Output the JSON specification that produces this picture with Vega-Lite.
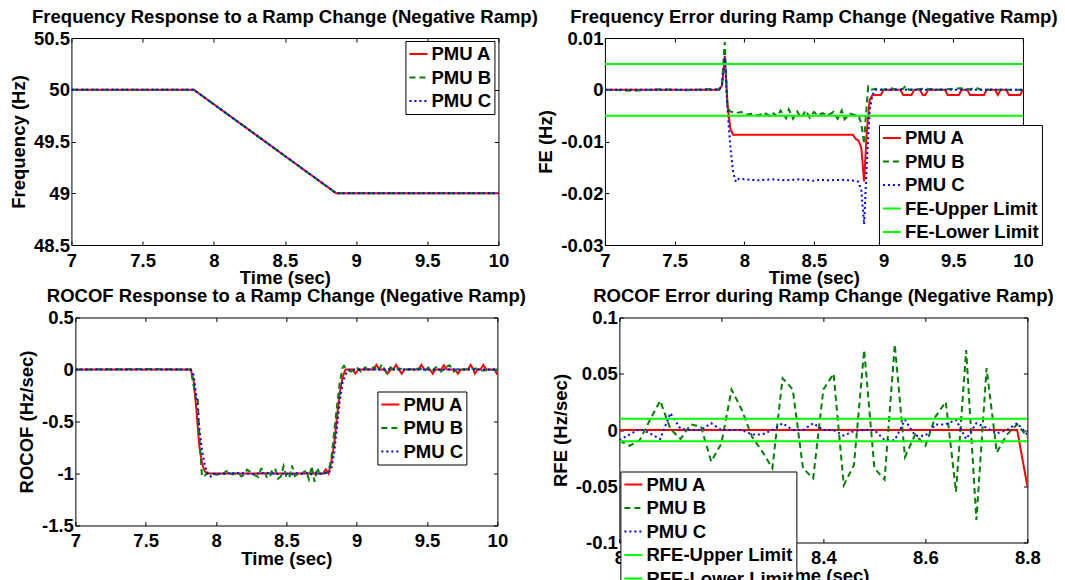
{
  "$schema": "https://vega.github.io/schema/vega-lite/v6.json",
  "background": "white",
  "padding": {"left": 9, "top": 7, "right": 0, "bottom": 0},
  "config": {
    "font": "Liberation Sans",
    "view": {"stroke": null},
    "axis": {
      "labelFont": "Liberation Sans", "labelFontWeight": "bold", "labelFontSize": 18.5, "labelColor": "black",
      "titleFont": "Liberation Sans", "titleFontWeight": "bold", "titleFontSize": 18.5, "titleColor": "black",
      "domainColor": "black", "domainWidth": 1, "tickColor": "black", "tickWidth": 1, "tickSize": -4,
      "grid": false, "labelFlush": false, "labelOverlap": false
    },
    "axisX": {"labelPadding": 10, "titlePadding": -1},
    "axisY": {"labelPadding": 6, "titlePadding": 5},
    "legend": {
      "orient": "none", "title": null, "fillColor": "white", "strokeColor": "black",
      "padding": 3, "rowPadding": 3.5, "labelFont": "Liberation Sans", "labelFontWeight": "bold",
      "labelFontSize": 18.5, "labelColor": "black", "symbolType": "stroke", "symbolSize": 324,
      "symbolStrokeWidth": 2, "labelOffset": 3
    },
    "title": {"font": "Liberation Sans", "fontWeight": "bold", "fontSize": 18.5, "color": "black", "anchor": "middle", "offset": 3, "baseline": "alphabetic"}
  },
  "resolve": {"scale": {"color": "independent", "strokeDash": "independent", "x": "independent", "y": "independent"}, "legend": {"color": "independent", "strokeDash": "independent"}},
  "datasets": {
    "freq": [
      {"s":"PMU A","t":7,"v":50},{"s":"PMU A","t":7.86,"v":50},{"s":"PMU A","t":8.86,"v":49},{"s":"PMU A","t":10,"v":49},
      {"s":"PMU B","t":7,"v":50},{"s":"PMU B","t":7.86,"v":50},{"s":"PMU B","t":8.86,"v":49},{"s":"PMU B","t":10,"v":49},
      {"s":"PMU C","t":7,"v":50},{"s":"PMU C","t":7.86,"v":50},{"s":"PMU C","t":8.86,"v":49},{"s":"PMU C","t":10,"v":49}
    ],
    "fe": [
      {"s":"PMU A","t":7,"v":0},{"s":"PMU A","t":7.82,"v":0},{"s":"PMU A","t":7.84,"v":0.0008},{"s":"PMU A","t":7.86,"v":0.0065},{"s":"PMU A","t":7.88,"v":-0.003},{"s":"PMU A","t":7.9,"v":-0.0075},{"s":"PMU A","t":7.92,"v":-0.0087},{"s":"PMU A","t":8.78,"v":-0.0087},{"s":"PMU A","t":8.8,"v":-0.0095},{"s":"PMU A","t":8.82,"v":-0.0098},{"s":"PMU A","t":8.84,"v":-0.0112},{"s":"PMU A","t":8.86,"v":-0.0177},{"s":"PMU A","t":8.88,"v":-0.008},{"s":"PMU A","t":8.9,"v":-0.002},{"s":"PMU A","t":8.92,"v":-0.001},{"s":"PMU A","t":8.98,"v":-0.001},{"s":"PMU A","t":9,"v":0},{"s":"PMU A","t":9.12,"v":0},{"s":"PMU A","t":9.14,"v":-0.001},{"s":"PMU A","t":9.2,"v":-0.001},{"s":"PMU A","t":9.22,"v":0},{"s":"PMU A","t":9.26,"v":0},{"s":"PMU A","t":9.28,"v":-0.001},{"s":"PMU A","t":9.3,"v":-0.001},{"s":"PMU A","t":9.32,"v":0},{"s":"PMU A","t":9.44,"v":0},{"s":"PMU A","t":9.46,"v":-0.001},{"s":"PMU A","t":9.54,"v":-0.001},{"s":"PMU A","t":9.56,"v":0},{"s":"PMU A","t":9.6,"v":0},{"s":"PMU A","t":9.62,"v":-0.001},{"s":"PMU A","t":9.72,"v":-0.001},{"s":"PMU A","t":9.74,"v":0},{"s":"PMU A","t":9.8,"v":0},{"s":"PMU A","t":9.82,"v":-0.001},{"s":"PMU A","t":9.84,"v":0},{"s":"PMU A","t":9.88,"v":0},{"s":"PMU A","t":9.9,"v":-0.001},{"s":"PMU A","t":9.98,"v":-0.001},{"s":"PMU A","t":10,"v":0},
      {"s":"PMU B","t":7,"v":0},{"s":"PMU B","t":7.2,"v":-0.0002},{"s":"PMU B","t":7.4,"v":0.0001},{"s":"PMU B","t":7.6,"v":-0.0001},{"s":"PMU B","t":7.78,"v":0.0002},{"s":"PMU B","t":7.82,"v":0},{"s":"PMU B","t":7.84,"v":0.001},{"s":"PMU B","t":7.86,"v":0.0092},{"s":"PMU B","t":7.88,"v":-0.0035},{"s":"PMU B","t":7.9,"v":-0.0042},{"s":"PMU B","t":7.94,"v":-0.0045},{"s":"PMU B","t":7.98,"v":-0.0043},{"s":"PMU B","t":8.02,"v":-0.0048},{"s":"PMU B","t":8.06,"v":-0.0046},{"s":"PMU B","t":8.1,"v":-0.005},{"s":"PMU B","t":8.14,"v":-0.0044},{"s":"PMU B","t":8.18,"v":-0.005},{"s":"PMU B","t":8.2,"v":-0.0044},{"s":"PMU B","t":8.24,"v":-0.0052},{"s":"PMU B","t":8.26,"v":-0.004},{"s":"PMU B","t":8.3,"v":-0.0055},{"s":"PMU B","t":8.32,"v":-0.0038},{"s":"PMU B","t":8.35,"v":-0.0056},{"s":"PMU B","t":8.38,"v":-0.0042},{"s":"PMU B","t":8.41,"v":-0.0055},{"s":"PMU B","t":8.44,"v":-0.004},{"s":"PMU B","t":8.47,"v":-0.0054},{"s":"PMU B","t":8.5,"v":-0.0043},{"s":"PMU B","t":8.53,"v":-0.005},{"s":"PMU B","t":8.56,"v":-0.0045},{"s":"PMU B","t":8.6,"v":-0.005},{"s":"PMU B","t":8.64,"v":-0.0043},{"s":"PMU B","t":8.67,"v":-0.0056},{"s":"PMU B","t":8.7,"v":-0.004},{"s":"PMU B","t":8.72,"v":-0.0057},{"s":"PMU B","t":8.76,"v":-0.0046},{"s":"PMU B","t":8.8,"v":-0.005},{"s":"PMU B","t":8.82,"v":-0.005},{"s":"PMU B","t":8.84,"v":-0.0065},{"s":"PMU B","t":8.86,"v":-0.0105},{"s":"PMU B","t":8.87,"v":-0.006},{"s":"PMU B","t":8.89,"v":0.0006},{"s":"PMU B","t":8.91,"v":0},{"s":"PMU B","t":8.95,"v":0.0002},{"s":"PMU B","t":9,"v":0},{"s":"PMU B","t":9.05,"v":0.0003},{"s":"PMU B","t":9.1,"v":0},{"s":"PMU B","t":9.14,"v":0.0002},{"s":"PMU B","t":9.16,"v":0.0008},{"s":"PMU B","t":9.18,"v":0},{"s":"PMU B","t":9.3,"v":0.0002},{"s":"PMU B","t":9.4,"v":0},{"s":"PMU B","t":9.55,"v":0.0003},{"s":"PMU B","t":9.62,"v":0.0001},{"s":"PMU B","t":9.66,"v":0.0004},{"s":"PMU B","t":9.7,"v":0},{"s":"PMU B","t":10,"v":0},
      {"s":"PMU C","t":7,"v":0},{"s":"PMU C","t":7.82,"v":0},{"s":"PMU C","t":7.84,"v":0.001},{"s":"PMU C","t":7.86,"v":0.0062},{"s":"PMU C","t":7.88,"v":-0.004},{"s":"PMU C","t":7.9,"v":-0.011},{"s":"PMU C","t":7.92,"v":-0.016},{"s":"PMU C","t":7.94,"v":-0.0178},{"s":"PMU C","t":7.96,"v":-0.0172},{"s":"PMU C","t":8,"v":-0.0173},{"s":"PMU C","t":8.1,"v":-0.0175},{"s":"PMU C","t":8.2,"v":-0.0173},{"s":"PMU C","t":8.3,"v":-0.0175},{"s":"PMU C","t":8.4,"v":-0.0173},{"s":"PMU C","t":8.5,"v":-0.0176},{"s":"PMU C","t":8.55,"v":-0.0174},{"s":"PMU C","t":8.6,"v":-0.0175},{"s":"PMU C","t":8.7,"v":-0.0174},{"s":"PMU C","t":8.8,"v":-0.0176},{"s":"PMU C","t":8.82,"v":-0.0178},{"s":"PMU C","t":8.84,"v":-0.0195},{"s":"PMU C","t":8.86,"v":-0.026},{"s":"PMU C","t":8.88,"v":-0.014},{"s":"PMU C","t":8.9,"v":-0.004},{"s":"PMU C","t":8.92,"v":-0.001},{"s":"PMU C","t":8.94,"v":0},{"s":"PMU C","t":10,"v":0},
      {"s":"FE-Upper Limit","t":7,"v":0.005},{"s":"FE-Upper Limit","t":10,"v":0.005},
      {"s":"FE-Lower Limit","t":7,"v":-0.005},{"s":"FE-Lower Limit","t":10,"v":-0.005}
    ],
    "rocof": [
      {"s":"PMU A","t":7,"v":0},{"s":"PMU A","t":7.82,"v":0},{"s":"PMU A","t":7.84,"v":-0.1},{"s":"PMU A","t":7.86,"v":-0.38},{"s":"PMU A","t":7.88,"v":-0.72},{"s":"PMU A","t":7.9,"v":-0.9},{"s":"PMU A","t":7.92,"v":-0.98},{"s":"PMU A","t":7.94,"v":-1},{"s":"PMU A","t":8.76,"v":-1},{"s":"PMU A","t":8.78,"v":-0.96},{"s":"PMU A","t":8.8,"v":-1},{"s":"PMU A","t":8.82,"v":-0.88},{"s":"PMU A","t":8.84,"v":-0.72},{"s":"PMU A","t":8.86,"v":-0.45},{"s":"PMU A","t":8.88,"v":-0.22},{"s":"PMU A","t":8.9,"v":-0.07},{"s":"PMU A","t":8.92,"v":0},{"s":"PMU A","t":8.97,"v":0},{"s":"PMU A","t":8.99,"v":-0.04},{"s":"PMU A","t":9.01,"v":0},{"s":"PMU A","t":9.12,"v":0},{"s":"PMU A","t":9.14,"v":0.045},{"s":"PMU A","t":9.16,"v":0},{"s":"PMU A","t":9.2,"v":0},{"s":"PMU A","t":9.22,"v":-0.04},{"s":"PMU A","t":9.24,"v":0},{"s":"PMU A","t":9.26,"v":0},{"s":"PMU A","t":9.28,"v":0.045},{"s":"PMU A","t":9.3,"v":0},{"s":"PMU A","t":9.32,"v":-0.04},{"s":"PMU A","t":9.34,"v":0},{"s":"PMU A","t":9.44,"v":0},{"s":"PMU A","t":9.46,"v":0.045},{"s":"PMU A","t":9.48,"v":0},{"s":"PMU A","t":9.52,"v":0},{"s":"PMU A","t":9.54,"v":-0.04},{"s":"PMU A","t":9.56,"v":0},{"s":"PMU A","t":9.6,"v":0},{"s":"PMU A","t":9.62,"v":0.04},{"s":"PMU A","t":9.64,"v":0},{"s":"PMU A","t":9.7,"v":0},{"s":"PMU A","t":9.72,"v":-0.04},{"s":"PMU A","t":9.74,"v":0},{"s":"PMU A","t":9.79,"v":0},{"s":"PMU A","t":9.81,"v":0.045},{"s":"PMU A","t":9.83,"v":0},{"s":"PMU A","t":9.84,"v":-0.04},{"s":"PMU A","t":9.86,"v":0},{"s":"PMU A","t":9.88,"v":0},{"s":"PMU A","t":9.9,"v":0.045},{"s":"PMU A","t":9.92,"v":0},{"s":"PMU A","t":9.98,"v":0},{"s":"PMU A","t":10,"v":-0.05},
      {"s":"PMU B","t":7,"v":0},{"s":"PMU B","t":7.5,"v":0.005},{"s":"PMU B","t":7.82,"v":0},{"s":"PMU B","t":7.84,"v":-0.15},{"s":"PMU B","t":7.86,"v":-0.3},{"s":"PMU B","t":7.87,"v":-0.28},{"s":"PMU B","t":7.88,"v":-0.6},{"s":"PMU B","t":7.9,"v":-1.03},{"s":"PMU B","t":7.92,"v":-1.02},{"s":"PMU B","t":7.94,"v":-0.99},{"s":"PMU B","t":7.98,"v":-1},{"s":"PMU B","t":8,"v":-1.009},{"s":"PMU B","t":8.02,"v":-1.014},{"s":"PMU B","t":8.04,"v":-1.009},{"s":"PMU B","t":8.06,"v":-0.991},{"s":"PMU B","t":8.08,"v":-0.974},{"s":"PMU B","t":8.1,"v":-0.999},{"s":"PMU B","t":8.12,"v":-1.008},{"s":"PMU B","t":8.14,"v":-0.995},{"s":"PMU B","t":8.16,"v":-0.997},{"s":"PMU B","t":8.18,"v":-1.028},{"s":"PMU B","t":8.2,"v":-1.012},{"s":"PMU B","t":8.22,"v":-0.964},{"s":"PMU B","t":8.24,"v":-0.982},{"s":"PMU B","t":8.26,"v":-1.006},{"s":"PMU B","t":8.28,"v":-1.019},{"s":"PMU B","t":8.3,"v":-1.034},{"s":"PMU B","t":8.32,"v":-0.954},{"s":"PMU B","t":8.34,"v":-0.964},{"s":"PMU B","t":8.36,"v":-1.034},{"s":"PMU B","t":8.38,"v":-1.043},{"s":"PMU B","t":8.4,"v":-0.964},{"s":"PMU B","t":8.42,"v":-0.95},{"s":"PMU B","t":8.44,"v":-1.049},{"s":"PMU B","t":8.46,"v":-1.031},{"s":"PMU B","t":8.48,"v":-0.929},{"s":"PMU B","t":8.5,"v":-1.034},{"s":"PMU B","t":8.52,"v":-1.044},{"s":"PMU B","t":8.54,"v":-0.924},{"s":"PMU B","t":8.56,"v":-1.024},{"s":"PMU B","t":8.58,"v":-1.004},{"s":"PMU B","t":8.6,"v":-1.014},{"s":"PMU B","t":8.62,"v":-0.988},{"s":"PMU B","t":8.64,"v":-0.975},{"s":"PMU B","t":8.66,"v":-1.055},{"s":"PMU B","t":8.68,"v":-0.929},{"s":"PMU B","t":8.7,"v":-1.08},{"s":"PMU B","t":8.72,"v":-0.945},{"s":"PMU B","t":8.74,"v":-1.02},{"s":"PMU B","t":8.76,"v":-1.004},{"s":"PMU B","t":8.78,"v":-0.995},{"s":"PMU B","t":8.8,"v":-0.98},{"s":"PMU B","t":8.82,"v":-0.85},{"s":"PMU B","t":8.84,"v":-0.6},{"s":"PMU B","t":8.86,"v":-0.35},{"s":"PMU B","t":8.88,"v":-0.12},{"s":"PMU B","t":8.9,"v":0.02},{"s":"PMU B","t":8.91,"v":0.035},{"s":"PMU B","t":8.93,"v":0},{"s":"PMU B","t":8.96,"v":-0.02},{"s":"PMU B","t":9,"v":0.02},{"s":"PMU B","t":9.03,"v":-0.02},{"s":"PMU B","t":9.06,"v":0.02},{"s":"PMU B","t":9.09,"v":-0.01},{"s":"PMU B","t":9.12,"v":0.02},{"s":"PMU B","t":9.15,"v":-0.02},{"s":"PMU B","t":9.18,"v":0.05},{"s":"PMU B","t":9.21,"v":-0.03},{"s":"PMU B","t":9.24,"v":0.02},{"s":"PMU B","t":9.27,"v":-0.01},{"s":"PMU B","t":9.3,"v":0.01},{"s":"PMU B","t":9.35,"v":0},{"s":"PMU B","t":9.45,"v":0.01},{"s":"PMU B","t":9.48,"v":-0.02},{"s":"PMU B","t":9.51,"v":0.02},{"s":"PMU B","t":9.54,"v":-0.01},{"s":"PMU B","t":9.57,"v":0.03},{"s":"PMU B","t":9.6,"v":-0.02},{"s":"PMU B","t":9.63,"v":0.02},{"s":"PMU B","t":9.66,"v":0.04},{"s":"PMU B","t":9.69,"v":-0.02},{"s":"PMU B","t":9.72,"v":0.01},{"s":"PMU B","t":9.76,"v":0},{"s":"PMU B","t":9.85,"v":0.01},{"s":"PMU B","t":9.88,"v":-0.01},{"s":"PMU B","t":10,"v":0},
      {"s":"PMU C","t":7,"v":0},{"s":"PMU C","t":7.82,"v":0},{"s":"PMU C","t":7.84,"v":-0.05},{"s":"PMU C","t":7.86,"v":-0.25},{"s":"PMU C","t":7.88,"v":-0.55},{"s":"PMU C","t":7.9,"v":-0.78},{"s":"PMU C","t":7.92,"v":-0.92},{"s":"PMU C","t":7.94,"v":-1},{"s":"PMU C","t":7.96,"v":-1.03},{"s":"PMU C","t":7.98,"v":-1},{"s":"PMU C","t":8,"v":-1.009},{"s":"PMU C","t":8.04,"v":-0.999},{"s":"PMU C","t":8.08,"v":-1.008},{"s":"PMU C","t":8.1,"v":-0.985},{"s":"PMU C","t":8.12,"v":-0.999},{"s":"PMU C","t":8.18,"v":-0.994},{"s":"PMU C","t":8.2,"v":-1},{"s":"PMU C","t":8.26,"v":-1.004},{"s":"PMU C","t":8.3,"v":-1},{"s":"PMU C","t":8.32,"v":-0.994},{"s":"PMU C","t":8.38,"v":-0.994},{"s":"PMU C","t":8.44,"v":-1.005},{"s":"PMU C","t":8.5,"v":-1},{"s":"PMU C","t":8.52,"v":-1.009},{"s":"PMU C","t":8.54,"v":-1.009},{"s":"PMU C","t":8.56,"v":-0.991},{"s":"PMU C","t":8.6,"v":-1.005},{"s":"PMU C","t":8.64,"v":-0.995},{"s":"PMU C","t":8.66,"v":-0.991},{"s":"PMU C","t":8.68,"v":-1.008},{"s":"PMU C","t":8.7,"v":-0.994},{"s":"PMU C","t":8.74,"v":-1.003},{"s":"PMU C","t":8.78,"v":-0.994},{"s":"PMU C","t":8.8,"v":-1},{"s":"PMU C","t":8.82,"v":-0.95},{"s":"PMU C","t":8.84,"v":-0.8},{"s":"PMU C","t":8.86,"v":-0.55},{"s":"PMU C","t":8.88,"v":-0.3},{"s":"PMU C","t":8.9,"v":-0.12},{"s":"PMU C","t":8.93,"v":-0.02},{"s":"PMU C","t":8.95,"v":0},{"s":"PMU C","t":10,"v":0}
    ],
    "rfe": [
      {"s":"PMU A","t":8,"v":0},{"s":"PMU A","t":8.78,"v":0},{"s":"PMU A","t":8.8,"v":-0.05},
      {"s":"PMU B","t":8,"v":-0.0094},{"s":"PMU B","t":8.02,"v":-0.014},{"s":"PMU B","t":8.04,"v":-0.009},{"s":"PMU B","t":8.06,"v":0.009},{"s":"PMU B","t":8.08,"v":0.026},{"s":"PMU B","t":8.1,"v":0.001},{"s":"PMU B","t":8.12,"v":-0.008},{"s":"PMU B","t":8.14,"v":0.005},{"s":"PMU B","t":8.16,"v":0.003},{"s":"PMU B","t":8.18,"v":-0.028},{"s":"PMU B","t":8.2,"v":-0.012},{"s":"PMU B","t":8.22,"v":0.036},{"s":"PMU B","t":8.24,"v":0.018},{"s":"PMU B","t":8.26,"v":-0.006},{"s":"PMU B","t":8.28,"v":-0.019},{"s":"PMU B","t":8.3,"v":-0.034},{"s":"PMU B","t":8.32,"v":0.046},{"s":"PMU B","t":8.34,"v":0.036},{"s":"PMU B","t":8.36,"v":-0.034},{"s":"PMU B","t":8.38,"v":-0.043},{"s":"PMU B","t":8.4,"v":0.036},{"s":"PMU B","t":8.42,"v":0.05},{"s":"PMU B","t":8.44,"v":-0.049},{"s":"PMU B","t":8.46,"v":-0.031},{"s":"PMU B","t":8.48,"v":0.071},{"s":"PMU B","t":8.5,"v":-0.034},{"s":"PMU B","t":8.52,"v":-0.044},{"s":"PMU B","t":8.54,"v":0.076},{"s":"PMU B","t":8.56,"v":-0.024},{"s":"PMU B","t":8.58,"v":-0.004},{"s":"PMU B","t":8.6,"v":-0.014},{"s":"PMU B","t":8.62,"v":0.012},{"s":"PMU B","t":8.64,"v":0.025},{"s":"PMU B","t":8.66,"v":-0.055},{"s":"PMU B","t":8.68,"v":0.071},{"s":"PMU B","t":8.7,"v":-0.08},{"s":"PMU B","t":8.72,"v":0.055},{"s":"PMU B","t":8.74,"v":-0.02},{"s":"PMU B","t":8.76,"v":-0.004},{"s":"PMU B","t":8.78,"v":0.005},{"s":"PMU B","t":8.8,"v":-0.006},
      {"s":"PMU C","t":8,"v":-0.009},{"s":"PMU C","t":8.02,"v":-0.004},{"s":"PMU C","t":8.04,"v":0.001},{"s":"PMU C","t":8.06,"v":-0.003},{"s":"PMU C","t":8.08,"v":-0.008},{"s":"PMU C","t":8.1,"v":0.015},{"s":"PMU C","t":8.12,"v":0.001},{"s":"PMU C","t":8.14,"v":0},{"s":"PMU C","t":8.16,"v":0},{"s":"PMU C","t":8.18,"v":0.006},{"s":"PMU C","t":8.2,"v":0},{"s":"PMU C","t":8.22,"v":0},{"s":"PMU C","t":8.24,"v":0},{"s":"PMU C","t":8.26,"v":-0.004},{"s":"PMU C","t":8.28,"v":-0.004},{"s":"PMU C","t":8.3,"v":0},{"s":"PMU C","t":8.32,"v":0.006},{"s":"PMU C","t":8.34,"v":0},{"s":"PMU C","t":8.36,"v":0},{"s":"PMU C","t":8.38,"v":0.006},{"s":"PMU C","t":8.4,"v":0},{"s":"PMU C","t":8.42,"v":0},{"s":"PMU C","t":8.44,"v":-0.005},{"s":"PMU C","t":8.46,"v":-0.001},{"s":"PMU C","t":8.48,"v":0},{"s":"PMU C","t":8.5,"v":0},{"s":"PMU C","t":8.52,"v":-0.009},{"s":"PMU C","t":8.54,"v":-0.009},{"s":"PMU C","t":8.56,"v":0.009},{"s":"PMU C","t":8.58,"v":-0.005},{"s":"PMU C","t":8.6,"v":-0.005},{"s":"PMU C","t":8.62,"v":0.005},{"s":"PMU C","t":8.64,"v":0.005},{"s":"PMU C","t":8.66,"v":0.009},{"s":"PMU C","t":8.68,"v":-0.008},{"s":"PMU C","t":8.7,"v":0.006},{"s":"PMU C","t":8.72,"v":0.002},{"s":"PMU C","t":8.74,"v":-0.003},{"s":"PMU C","t":8.76,"v":0},{"s":"PMU C","t":8.78,"v":0.006},{"s":"PMU C","t":8.8,"v":-0.004},
      {"s":"RFE-Upper Limit","t":8,"v":0.01},{"s":"RFE-Upper Limit","t":8.8,"v":0.01},
      {"s":"RFE-Lower Limit","t":8,"v":-0.01},{"s":"RFE-Lower Limit","t":8.8,"v":-0.01}
    ]
  },
  "vconcat": [
    {
      "resolve": {"scale": {"color": "independent", "strokeDash": "independent", "x": "independent", "y": "independent"}, "legend": {"color": "independent", "strokeDash": "independent"}},
      "hconcat": [
        {
          "width": 427, "height": 207,
          "title": "Frequency Response to a Ramp Change (Negative Ramp)",
          "resolve": {"axis": {"x": "independent", "y": "independent"}},
          "layer": [
            {
              "data": {"name": "freq"},
              "mark": {"type": "line", "strokeWidth": 2, "clip": true},
              "encoding": {
                "x": {"field": "t", "type": "quantitative", "scale": {"domain": [7, 10], "nice": false, "zero": false}, "axis": {"values": [7, 7.5, 8, 8.5, 9, 9.5, 10], "title": "Time (sec)", "labelExpr": "'' + datum.value"}},
                "y": {"field": "v", "type": "quantitative", "scale": {"domain": [48.5, 50.5], "nice": false, "zero": false}, "axis": {"values": [48.5, 49, 49.5, 50, 50.5], "title": "Frequency (Hz)", "labelExpr": "'' + datum.value"}},
                "color": {"field": "s", "type": "nominal", "scale": {"domain": ["PMU A", "PMU B", "PMU C"], "range": ["#ff0000", "#008000", "#0000ff"]}, "legend": {"legendX": 334, "legendY": 3}},
                "strokeDash": {"field": "s", "type": "nominal", "scale": {"domain": ["PMU A", "PMU B", "PMU C"], "range": [[1, 0], [6, 4], [2, 3]]}, "legend": {"legendX": 334, "legendY": 3}}
              }
            },
            {
              "data": {"name": "freq"},
              "mark": {"type": "point", "opacity": 0},
              "encoding": {
                "x": {"field": "t", "type": "quantitative", "scale": {"domain": [7, 10], "nice": false, "zero": false}, "axis": {"orient": "top", "values": [7, 7.5, 8, 8.5, 9, 9.5, 10], "labels": false, "title": null}},
                "y": {"field": "v", "type": "quantitative", "scale": {"domain": [48.5, 50.5], "nice": false, "zero": false}, "axis": {"orient": "right", "values": [48.5, 49, 49.5, 50, 50.5], "labels": false, "title": null}}
              }
            }
          ]
        },
        {
          "width": 418, "height": 207,
          "title": "Frequency Error during Ramp Change (Negative Ramp)",
          "resolve": {"axis": {"x": "independent", "y": "independent"}},
          "layer": [
            {
              "data": {"name": "fe"},
              "mark": {"type": "line", "strokeWidth": 2, "clip": true},
              "encoding": {
                "x": {"field": "t", "type": "quantitative", "scale": {"domain": [7, 10], "nice": false, "zero": false}, "axis": {"values": [7, 7.5, 8, 8.5, 9, 9.5, 10], "title": "Time (sec)", "labelExpr": "'' + datum.value"}},
                "y": {"field": "v", "type": "quantitative", "scale": {"domain": [-0.03, 0.01], "nice": false, "zero": false}, "axis": {"values": [-0.03, -0.02, -0.01, 0, 0.01], "title": "FE (Hz)", "labelExpr": "'' + datum.value"}},
                "color": {"field": "s", "type": "nominal", "scale": {"domain": ["PMU A", "PMU B", "PMU C", "FE-Upper Limit", "FE-Lower Limit"], "range": ["#ff0000", "#008000", "#0000ff", "#00ff00", "#00ff00"]}, "legend": {"legendX": 274, "legendY": 87}},
                "strokeDash": {"field": "s", "type": "nominal", "scale": {"domain": ["PMU A", "PMU B", "PMU C", "FE-Upper Limit", "FE-Lower Limit"], "range": [[1, 0], [6, 4], [2, 3], [1, 0], [1, 0]]}, "legend": {"legendX": 274, "legendY": 87}}
              }
            },
            {
              "data": {"name": "fe"},
              "mark": {"type": "point", "opacity": 0},
              "encoding": {
                "x": {"field": "t", "type": "quantitative", "scale": {"domain": [7, 10], "nice": false, "zero": false}, "axis": {"orient": "top", "values": [7, 7.5, 8, 8.5, 9, 9.5, 10], "labels": false, "title": null}},
                "y": {"field": "v", "type": "quantitative", "scale": {"domain": [-0.03, 0.01], "nice": false, "zero": false}, "axis": {"orient": "right", "values": [-0.03, -0.02, -0.01, 0, 0.01], "labels": false, "title": null}}
              }
            }
          ]
        }
      ],
      "spacing": -2.5
    },
    {
      "resolve": {"scale": {"color": "independent", "strokeDash": "independent", "x": "independent", "y": "independent"}, "legend": {"color": "independent", "strokeDash": "independent"}},
      "hconcat": [
        {
          "width": 422, "height": 208,
          "title": "ROCOF Response to a Ramp Change (Negative Ramp)",
          "resolve": {"axis": {"x": "independent", "y": "independent"}},
          "layer": [
            {
              "data": {"name": "rocof"},
              "mark": {"type": "line", "strokeWidth": 2, "clip": true},
              "encoding": {
                "x": {"field": "t", "type": "quantitative", "scale": {"domain": [7, 10], "nice": false, "zero": false}, "axis": {"values": [7, 7.5, 8, 8.5, 9, 9.5, 10], "title": "Time (sec)", "labelExpr": "'' + datum.value"}},
                "y": {"field": "v", "type": "quantitative", "scale": {"domain": [-1.5, 0.5], "nice": false, "zero": false}, "axis": {"values": [-1.5, -1, -0.5, 0, 0.5], "title": "ROCOF (Hz/sec)", "labelExpr": "'' + datum.value"}},
                "color": {"field": "s", "type": "nominal", "scale": {"domain": ["PMU A", "PMU B", "PMU C"], "range": ["#ff0000", "#008000", "#0000ff"]}, "legend": {"legendX": 302, "legendY": 74}},
                "strokeDash": {"field": "s", "type": "nominal", "scale": {"domain": ["PMU A", "PMU B", "PMU C"], "range": [[1, 0], [6, 4], [2, 3]]}, "legend": {"legendX": 302, "legendY": 74}}
              }
            },
            {
              "data": {"name": "rocof"},
              "mark": {"type": "point", "opacity": 0},
              "encoding": {
                "x": {"field": "t", "type": "quantitative", "scale": {"domain": [7, 10], "nice": false, "zero": false}, "axis": {"orient": "top", "values": [7, 7.5, 8, 8.5, 9, 9.5, 10], "labels": false, "title": null}},
                "y": {"field": "v", "type": "quantitative", "scale": {"domain": [-1.5, 0.5], "nice": false, "zero": false}, "axis": {"orient": "right", "values": [-1.5, -1, -0.5, 0, 0.5], "labels": false, "title": null}}
              }
            }
          ]
        },
        {
          "width": 408, "height": 225,
          "title": "ROCOF Error during Ramp Change (Negative Ramp)",
          "resolve": {"axis": {"x": "independent", "y": "independent"}},
          "layer": [
            {
              "data": {"name": "rfe"},
              "mark": {"type": "line", "strokeWidth": 2, "clip": true},
              "encoding": {
                "x": {"field": "t", "type": "quantitative", "scale": {"domain": [8, 8.8], "nice": false, "zero": false}, "axis": {"values": [8, 8.2, 8.4, 8.6, 8.8], "title": "Time (sec)", "labelExpr": "'' + datum.value"}},
                "y": {"field": "v", "type": "quantitative", "scale": {"domain": [-0.1, 0.1], "nice": false, "zero": false}, "axis": {"values": [-0.1, -0.05, 0, 0.05, 0.1], "title": "RFE (Hz/sec)", "labelExpr": "'' + datum.value"}},
                "color": {"field": "s", "type": "nominal", "scale": {"domain": ["PMU A", "PMU B", "PMU C", "RFE-Upper Limit", "RFE-Lower Limit"], "range": ["#ff0000", "#008000", "#0000ff", "#00ff00", "#00ff00"]}, "legend": {"legendX": 1, "legendY": 154}},
                "strokeDash": {"field": "s", "type": "nominal", "scale": {"domain": ["PMU A", "PMU B", "PMU C", "RFE-Upper Limit", "RFE-Lower Limit"], "range": [[1, 0], [6, 4], [2, 3], [1, 0], [1, 0]]}, "legend": {"legendX": 1, "legendY": 154}}
              }
            },
            {
              "data": {"name": "rfe"},
              "mark": {"type": "point", "opacity": 0},
              "encoding": {
                "x": {"field": "t", "type": "quantitative", "scale": {"domain": [8, 8.8], "nice": false, "zero": false}, "axis": {"orient": "top", "values": [8, 8.2, 8.4, 8.6, 8.8], "labels": false, "title": null}},
                "y": {"field": "v", "type": "quantitative", "scale": {"domain": [-0.1, 0.1], "nice": false, "zero": false}, "axis": {"orient": "right", "values": [-0.1, -0.05, 0, 0.05, 0.1], "labels": false, "title": null}}
              }
            }
          ]
        }
      ],
      "spacing": 24
    }
  ],
  "spacing": -0.5,
  "center": true
}
